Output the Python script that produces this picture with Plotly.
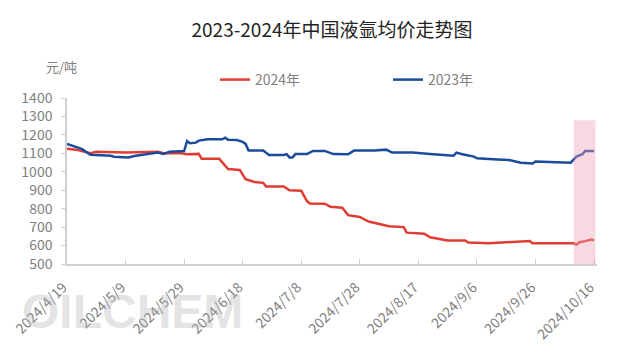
import plotly.graph_objects as go

title_text = "2023-2024年中国液氩均价走势图"
unit_text = "元/吨"
watermark_text = "OILCHEM"

red_dates = ["2024-04-19","2024-04-22","2024-04-27","2024-04-29","2024-05-09","2024-05-14","2024-05-20","2024-05-22",
             "2024-05-28","2024-05-30","2024-06-03","2024-06-04","2024-06-10","2024-06-13","2024-06-17","2024-06-19",
             "2024-06-22","2024-06-25","2024-06-26","2024-07-02","2024-07-04","2024-07-08","2024-07-10","2024-07-11",
             "2024-07-16","2024-07-18","2024-07-22","2024-07-24","2024-07-28","2024-07-31","2024-08-05","2024-08-07",
             "2024-08-12","2024-08-13","2024-08-19","2024-08-21","2024-08-27","2024-09-02","2024-09-03","2024-09-10",
             "2024-09-16","2024-09-24","2024-09-25","2024-10-09","2024-10-10","2024-10-11","2024-10-13","2024-10-15",
             "2024-10-16"]
red_values = [1125,1120,1100,1108,1105,1108,1108,1100,
              1100,1095,1097,1070,1070,1015,1010,960,
              945,940,920,920,900,897,840,828,
              827,810,805,765,755,730,715,705,
              700,670,664,645,628,628,616,612,
              618,625,613,613,604,618,624,633,
              628]

blue_dates = ["2024-04-19","2024-04-23","2024-04-24","2024-04-27","2024-05-04","2024-05-05","2024-05-10","2024-05-12",
              "2024-05-16","2024-05-20","2024-05-22","2024-05-24","2024-05-29","2024-05-30","2024-05-31","2024-06-02",
              "2024-06-03","2024-06-06","2024-06-11","2024-06-12","2024-06-13","2024-06-16","2024-06-18","2024-06-19",
              "2024-06-20","2024-06-25","2024-06-27","2024-07-02","2024-07-03","2024-07-04","2024-07-05","2024-07-06",
              "2024-07-10","2024-07-12","2024-07-16","2024-07-19","2024-07-24","2024-07-26","2024-08-02","2024-08-06",
              "2024-08-08","2024-08-15","2024-08-21","2024-08-23","2024-08-29","2024-08-30","2024-09-01","2024-09-05",
              "2024-09-06","2024-09-13","2024-09-17","2024-09-21","2024-09-25","2024-09-26","2024-10-06","2024-10-08",
              "2024-10-10","2024-10-12","2024-10-13","2024-10-16"]
blue_values = [1151,1130,1124,1092,1087,1082,1078,1085,
               1095,1104,1097,1109,1112,1167,1155,1158,
               1169,1176,1176,1185,1173,1172,1162,1151,
               1115,1115,1091,1091,1096,1078,1078,1096,
               1097,1113,1113,1096,1095,1115,1116,1120,
               1104,1104,1096,1093,1087,1104,1095,1082,
               1073,1067,1064,1049,1045,1056,1053,1049,
               1082,1095,1113,1113]

tick_dates = ["2024-04-19","2024-05-09","2024-05-29","2024-06-18","2024-07-08",
              "2024-07-28","2024-08-17","2024-09-06","2024-09-26","2024-10-16"]
tick_labels = ["2024/4/19","2024/5/9","2024/5/29","2024/6/18","2024/7/8",
               "2024/7/28","2024/8/17","2024/9/6","2024/9/26","2024/10/16"]
y_ticks = [500,600,700,800,900,1000,1100,1200,1300,1400]

shade_start = "2024-10-09"
shade_end = "2024-10-16 12:00"
shade_top = 1280

FONT = "Noto Sans CJK SC"
RED = "#e03c31"
BLUE = "#1b4c9c"
GRAY = "#7f7f7f"

# page body adds an 8px offset; figure is sized so the plot lands where the reference has it
W, H = 623, 349
L, T, PW, PH = 59, 90, 530, 166


def px_x(sx):  # screen x -> paper x
    return (sx - 67) / PW


def px_y(sy):  # screen y -> paper y
    return (264 - sy) / PH


fig = go.Figure()
fig.add_trace(go.Scatter(x=red_dates, y=red_values, mode="lines", name="2024年",
                         line=dict(color=RED, width=2.5)))
fig.add_trace(go.Scatter(x=blue_dates, y=blue_values, mode="lines", name="2023年",
                         line=dict(color=BLUE, width=2.5)))

fig.add_shape(type="rect", xref="x", yref="y", x0=shade_start, x1=shade_end, y0=500, y1=shade_top,
              fillcolor="rgba(240,160,180,0.4)", line=dict(width=0), layer="above")

fig.add_annotation(text=watermark_text, xref="paper", yref="paper", x=px_x(20), y=px_y(311),
                   xanchor="left", yanchor="middle", showarrow=False,
                   font=dict(family="Liberation Sans", size=48, weight="bold",
                             color="rgba(185,185,185,0.4)"))

fig.add_annotation(text=unit_text, xref="paper", yref="paper", x=px_x(44), y=px_y(67),
                   xanchor="left", yanchor="middle", showarrow=False,
                   font=dict(family=FONT, size=13, color=GRAY))

fig.update_layout(
    width=W, height=H,
    margin=dict(l=L, r=W - L - PW, t=T, b=H - T - PH, autoexpand=False),
    paper_bgcolor="white", plot_bgcolor="white",
    title=dict(text=title_text, x=0.5, xref="paper", y=1 - (30 - 8) / H, yref="container",
               xanchor="center", yanchor="middle",
               font=dict(family=FONT, size=19, color="#222222")),
    legend=dict(orientation="h", x=px_x(215), y=px_y(80),
                xanchor="left", yanchor="middle", entrywidth=128, entrywidthmode="pixels",
                font=dict(family=FONT, size=14, color=GRAY), bgcolor="rgba(0,0,0,0)"),
    showlegend=True,
    font=dict(family=FONT, color=GRAY),
)
fig.update_xaxes(type="date", range=["2024-04-19", "2024-10-17"],
                 tickmode="array", tickvals=tick_dates, ticktext=tick_labels,
                 tickangle=-45, tickfont=dict(family=FONT, size=14, color=GRAY),
                 ticklabelshift=-4, ticklabelstandoff=8,
                 showgrid=False, showline=True, linecolor="#d0d0d0", linewidth=1.5,
                 ticks="inside", ticklen=5, tickcolor="#d0d0d0", zeroline=False, automargin=False)
fig.update_yaxes(range=[500, 1400], tickmode="array", tickvals=y_ticks,
                 tickfont=dict(family=FONT, size=14, color=GRAY), ticklabelstandoff=6,
                 showgrid=False, showline=True, linecolor="#d0d0d0", linewidth=1.5,
                 ticks="outside", ticklen=4, tickcolor="#d0d0d0", zeroline=False, automargin=False)

fig.write_html("out.html")
